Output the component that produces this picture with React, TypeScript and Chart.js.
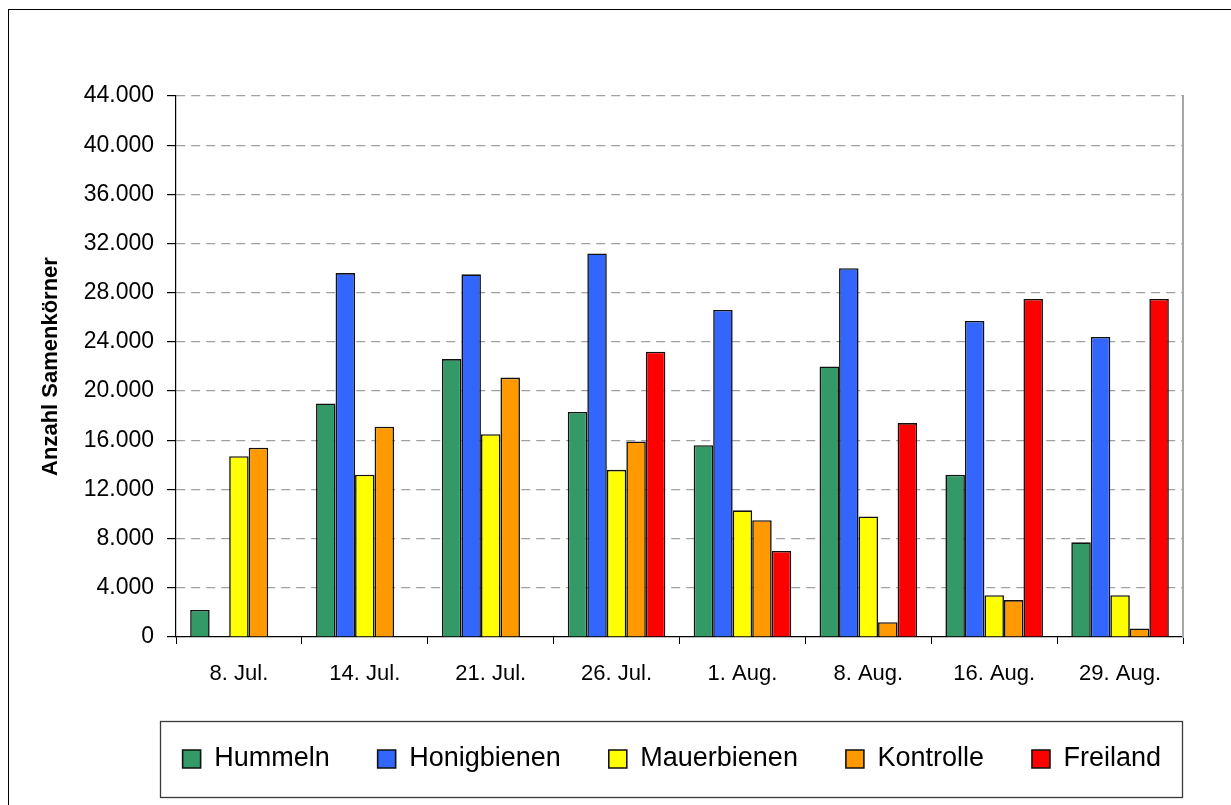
import React, { useEffect, useRef } from 'react';
import { Chart, registerables } from 'chart.js';

Chart.register(...registerables);

const categories = ['8. Jul.', '14. Jul.', '21. Jul.', '26. Jul.', '1. Aug.', '8. Aug.', '16. Aug.', '29. Aug.'];
const hummeln = [2200, 19000, 22600, 18300, 15600, 22000, 13200, 7700];
const honigbienen = [null, 29600, 29500, 31200, 26600, 30000, 25700, 24400];
const mauerbienen = [14700, 13200, 16500, 13600, 10300, 9800, 3400, 3400];
const kontrolle = [15400, 17100, 21100, 15900, 9500, 1200, 3000, 700];
const freiland = [null, null, null, 23200, 7000, 17400, 27500, 27500];

const seriesNames = ['Hummeln', 'Honigbienen', 'Mauerbienen', 'Kontrolle', 'Freiland'];
const seriesColors = ['#339966', '#3366FF', '#FFFF00', '#FF9900', '#FF0000'];
const yMin = 0;
const yMax = 44000;
const yStep = 4000;
const yTitle = 'Anzahl Samenkörner';

const FONT = '"Liberation Sans", Arial, sans-serif';

const fmt = (v: number) => String(Math.round(v)).replace(/\B(?=(\d{3})+(?!\d))/g, '.');

const legendBoxPlugin = {
  id: 'legendBox',
  afterDraw(chart: any) {
    const lg = chart.legend;
    const hb = lg && lg.legendHitBoxes;
    if (!hb || !hb.length) return;
    const first = hb[0];
    const last = hb[hb.length - 1];
    const cy = first.top + first.height / 2;
    const x1 = Math.round(first.left - 23) + 0.5;
    const x2 = Math.round(last.left + last.width + 21) + 0.5;
    const y1 = Math.round(cy - 38) + 0.5;
    const y2 = Math.round(cy + 38) + 0.5;
    const ctx = chart.ctx;
    ctx.save();
    ctx.strokeStyle = '#3a3a3a';
    ctx.lineWidth = 1.3;
    ctx.strokeRect(x1, y1, x2 - x1, y2 - y1);
    ctx.restore();
  },
};

export default function App() {
  const ref = useRef<HTMLCanvasElement | null>(null);

  useEffect(() => {
    if (!ref.current) return;
    const all = [hummeln, honigbienen, mauerbienen, kontrolle, freiland];
    const chart = new Chart(ref.current, {
      type: 'bar',
      data: {
        labels: categories,
        datasets: all.map((d, i) => ({
          label: seriesNames[i],
          data: d,
          backgroundColor: seriesColors[i],
          borderColor: '#111',
          borderWidth: 1.6,
          categoryPercentage: 0.775,
          barPercentage: 1,
          yAxisID: 'y',
        })),
      },
      options: {
        responsive: false,
        animation: false,
        devicePixelRatio: 1,
        layout: { padding: { left: 38, right: 22, top: 96, bottom: 22.5 } },
        plugins: {
          tooltip: { enabled: false },
          legend: {
            position: 'bottom',
            align: 'end',
            fullSize: true,
            labels: {
              boxWidth: 18,
              boxHeight: 18,
              padding: 48,
              color: '#000',
              font: { family: FONT, size: 27 },
            },
          },
        },
        scales: {
          x: {
            grid: {
              offset: true,
              drawOnChartArea: false,
              drawTicks: true,
              tickLength: 7,
              tickColor: '#000',
              color: '#000',
            },
            border: { color: '#000', width: 1.2 },
            ticks: {
              color: '#000',
              font: { family: FONT, size: 22 },
              padding: 17,
              maxRotation: 0,
              autoSkip: false,
            },
            afterFit: (s: any) => { s.height = 60.5; },
          },
          y: {
            min: yMin,
            max: yMax,
            ticks: {
              stepSize: yStep,
              color: '#000',
              font: { family: FONT, size: 23 },
              padding: 13,
              callback: (v: any) => fmt(Number(v)),
            },
            grid: {
              color: (c: any) => (c.tick && c.tick.value === 0 ? 'rgba(0,0,0,0)' : '#a0a0a0'),
              tickColor: '#000',
              tickLength: 9,
              lineWidth: 1.2,
            },
            border: { color: '#000', width: 1.2, dash: [9, 6] },
            title: {
              display: true,
              text: yTitle,
              color: '#000',
              font: { family: FONT, size: 22, weight: 'bold' },
              padding: { top: 0, bottom: 0 },
            },
            afterFit: (s: any) => { s.width = 138; },
          },
          y2: {
            position: 'right',
            min: yMin,
            max: yMax,
            ticks: { display: false },
            grid: { drawOnChartArea: false, drawTicks: false },
            border: { color: '#a6a6a6', width: 2 },
            afterFit: (s: any) => { s.width = 26; },
          },
        },
      },
      plugins: [legendBoxPlugin],
    } as any);
    return () => chart.destroy();
  }, []);

  return (
    <div style={{ position: 'fixed', left: 0, top: 0, width: 1231, height: 805, background: '#fff', overflow: 'hidden' }}>
      <div
        style={{
          position: 'absolute',
          left: 8,
          top: 9,
          width: 1300,
          height: 900,
          border: '1.3px solid #000',
          boxSizing: 'border-box',
        }}
      />
      <canvas ref={ref} width={1231} height={805} style={{ position: 'absolute', left: 0, top: 0 }} />
    </div>
  );
}
